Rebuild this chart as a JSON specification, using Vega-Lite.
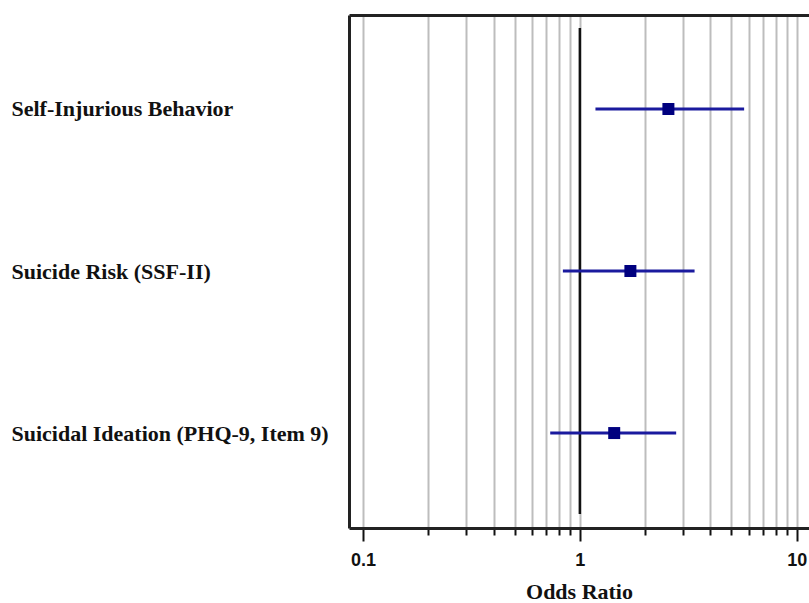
{
  "$schema": "https://vega.github.io/schema/vega-lite/v6.json",
  "width": 460,
  "height": 513,
  "autosize": {"type": "none"},
  "padding": {"left": 349, "top": 15, "right": 0, "bottom": 75},
  "background": "white",
  "config": {"view": {"stroke": null}},
  "datasets": {
    "est": [
      {"outcome": "Self-Injurious Behavior", "row": 0, "or": 2.56, "lower": 1.18, "upper": 5.72},
      {"outcome": "Suicide Risk (SSF-II)", "row": 1, "or": 1.71, "lower": 0.835, "upper": 3.38},
      {"outcome": "Suicidal Ideation (PHQ-9, Item 9)", "row": 2, "or": 1.44, "lower": 0.73, "upper": 2.78}
    ],
    "ref": [{"or": 1, "top": -0.5, "bottom": 2.5}]
  },
  "resolve": {"axis": {"x": "independent"}},
  "layer": [
    {
      "data": {"name": "ref"},
      "mark": {"type": "rule", "color": "#111", "strokeWidth": 2.5},
      "encoding": {
        "x": {
          "field": "or", "type": "quantitative",
          "scale": {"type": "log", "domain": [0.0862, 11.39], "nice": false},
          "axis": {
            "orient": "bottom",
            "values": [0.1,0.2,0.3,0.4,0.5,0.6,0.7,0.8,0.9,1,2,3,4,5,6,7,8,9,10],
            "grid": true, "gridColor": "#bdbdbd", "gridWidth": 2,
            "domain": true, "domainColor": "#222", "domainWidth": 3,
            "ticks": true, "tickColor": "#111", "tickWidth": 2,
            "tickSize": {"condition": {"test": "datum.value == 0.1 || datum.value == 1 || datum.value == 10", "value": 13}, "value": 7},
            "labelExpr": "datum.value == 0.1 || datum.value == 1 || datum.value == 10 ? datum.label : ''",
            "format": "~g",
            "labelFont": "Liberation Sans", "labelFontWeight": "bold", "labelFontSize": 18, "labelColor": "#111",
            "labelPadding": 10, "labelFlush": false, "labelOverlap": false,
            "title": "Odds Ratio", "titleFont": "Liberation Serif", "titleFontWeight": "bold", "titleFontSize": 22,
            "titleColor": "#111", "titlePadding": 12
          }
        },
        "y": {
          "field": "top", "type": "quantitative",
          "scale": {"domain": [-0.58, 2.586], "reverse": true, "nice": false, "zero": false},
          "axis": {
            "orient": "left",
            "values": [0, 1, 2],
            "labelExpr": "datum.value == 0 ? 'Self-Injurious Behavior' : datum.value == 1 ? 'Suicide Risk (SSF-II)' : 'Suicidal Ideation (PHQ-9, Item 9)'",
            "grid": false, "ticks": false, "tickSize": 0,
            "domain": true, "domainColor": "#222", "domainWidth": 3,
            "labelAlign": "left", "labelBaseline": "middle", "labelPadding": 338, "labelLimit": 0,
            "labelFont": "Liberation Serif", "labelFontWeight": "bold", "labelFontSize": 22, "labelColor": "#111",
            "labelOverlap": false, "labelBound": false,
            "title": null
          }
        },
        "y2": {"field": "bottom"}
      }
    },
    {
      "data": {"name": "est"},
      "mark": {"type": "rule", "color": "#1a1a9e", "strokeWidth": 3},
      "encoding": {
        "x": {
          "field": "lower", "type": "quantitative",
          "axis": {"orient": "top", "labels": false, "ticks": false, "grid": false, "domain": true, "domainColor": "#222", "domainWidth": 3, "title": null}
        },
        "x2": {"field": "upper"},
        "y": {"field": "row", "type": "quantitative"}
      }
    },
    {
      "data": {"name": "est"},
      "mark": {"type": "point", "shape": "square", "filled": true, "size": 144, "color": "#00007f", "opacity": 1},
      "encoding": {
        "x": {"field": "or", "type": "quantitative", "axis": null},
        "y": {"field": "row", "type": "quantitative"}
      }
    }
  ]
}
